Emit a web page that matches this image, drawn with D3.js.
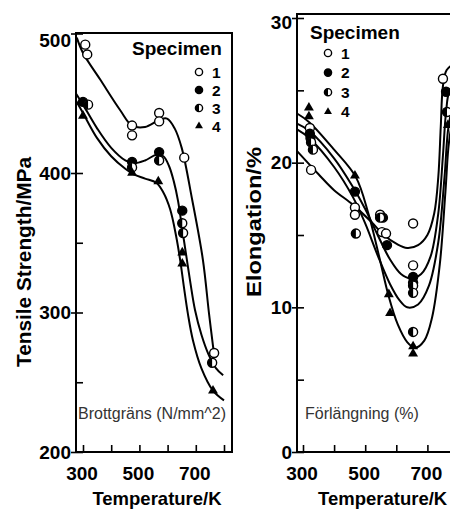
<!DOCTYPE html>
<html>
<head>
<meta charset="utf-8">
<script src="https://cdn.jsdelivr.net/npm/d3@7/dist/d3.min.js"></script>
<style>
  body { margin: 0; background: #fff; }
  svg { display: block; }
</style>
</head>
<body>
<svg id="chart" width="450" height="511"></svg>
<script>
// axis ticks
const tempTicks = [300, 400, 500, 600, 700, 800];
const tempLabels = [300, 500, 700];
const strengthTicks = [200, 300, 400, 500];
const strengthMinor = [250, 350, 450];
const elongTicks = [0, 10, 20, 30];
const elongMinor = [5, 15, 25];
const specimens = ["1", "2", "3", "4"];
const markerKinds = ["open", "filled", "half", "triangle"];

// tensile strength, measured points [K, MPa]
const strengthPts1 = [[308, 492], [315, 485], [474, 434], [474, 427], [570, 443], [570, 437], [659, 411], [765, 271]];
const strengthPts2 = [[300, 451], [474, 408], [570, 415], [652, 373]];
const strengthPts3 = [[318, 449], [474, 404], [570, 409], [652, 364], [655, 357], [758, 264]];
const strengthPts4 = [[300, 441], [474, 400], [567, 394], [652, 343], [652, 335], [761, 244]];
// fitted curves (specimens 2 and 3 share one)
const strengthFit1 = [[278, 497], [300, 486], [361, 467], [432, 445], [474, 434], [520, 433], [570, 438], [598, 439], [625, 432], [650, 418], [687, 381], [725, 338], [747, 299], [764, 271]];
const strengthFit23 = [[275, 457], [300, 449], [350, 432], [400, 418], [450, 409], [480, 407], [520, 409], [560, 413], [585, 412], [605, 405], [622, 394], [637, 380], [651, 361], [666, 341], [681, 321], [697, 302], [720, 284], [745, 270], [772, 260], [797, 255]];
const strengthFit4 = [[275, 452], [300, 443], [350, 425], [400, 412], [450, 403], [480, 399], [520, 396], [560, 393], [585, 386], [609, 374], [630, 355], [645, 337], [658, 318], [672, 299], [690, 280], [720, 260], [761, 244], [800, 237]];

// elongation, measured points [K, %]
const elongPts1 = [[322, 22.4], [326, 19.5], [467, 16.9], [467, 16.4], [548, 16.4], [554, 15.2], [567, 15.1], [654, 15.8], [654, 12.9], [750, 25.8]];
const elongPts2 = [[322, 22.0], [324, 21.7], [467, 18.0], [557, 16.2], [570, 14.3], [654, 12.1], [654, 11.7], [760, 24.9]];
const elongPts3 = [[326, 21.4], [332, 20.9], [470, 15.1], [548, 16.2], [654, 11.5], [654, 11.0], [654, 8.3], [763, 23.5]];
const elongPts4 = [[319, 23.8], [319, 23.2], [467, 19.1], [576, 10.9], [580, 9.6], [654, 7.3], [654, 6.8], [766, 22.6]];
const elongFit1 = [[281, 20.8], [350, 19.2], [400, 18.1], [460, 17.1], [520, 15.9], [560, 15.0], [600, 14.4], [635, 14.1], [670, 14.3], [700, 15.0], [722, 16.5], [735, 19.0], [743, 22.5], [750, 25.3], [762, 26.4], [790, 26.9]];
const elongFit2 = [[281, 22.7], [320, 22.2], [400, 20.3], [461, 18.3], [500, 16.8], [540, 15.0], [580, 13.3], [615, 12.3], [645, 12.0], [680, 12.3], [710, 13.5], [735, 16.5], [750, 20.5], [760, 23.5], [772, 25.0], [800, 25.6]];
const elongFit3 = [[281, 22.3], [320, 21.7], [400, 19.7], [461, 17.6], [500, 15.8], [540, 13.6], [580, 11.6], [610, 10.5], [635, 10.0], [670, 10.2], [705, 11.5], [735, 14.5], [755, 19.0], [768, 22.5], [785, 24.0], [810, 24.5]];
const elongFit4 = [[281, 23.4], [320, 22.8], [400, 20.9], [470, 19.0], [510, 16.5], [545, 13.5], [575, 10.8], [605, 8.8], [635, 7.6], [660, 7.2], [690, 7.7], [715, 9.3], [740, 13.0], [758, 18.0], [770, 21.5], [785, 23.0], [810, 23.5]];

const FONT = "'Liberation Sans', Arial, sans-serif";
const svg = d3.select("#chart");

function marker(sel, kind, r) {
  if (kind == "triangle") {
    sel.append("path")
      .attr("d", d3.symbol(d3.symbolTriangle, r * r * 2.1)())
      .attr("fill", "#000");
    return;
  }
  sel.append("circle")
    .attr("r", r)
    .attr("fill", kind == "filled" ? "#000" : "#fff")
    .attr("stroke", "#000")
    .attr("stroke-width", 1.4);
  if (kind == "half") {
    sel.append("path")
      .attr("d", `M0,${-r}A${r},${r} 0 0 0 0,${r}Z`)
      .attr("fill", "#000");
  }
}

function drawPanel(cfg) {
  const g = svg.append("g");
  const x = d3.scaleLinear().domain([300, 800]).range(cfg.xRange);
  const y = d3.scaleLinear().domain(cfg.yDomain).range(cfg.yRange);
  const [left, top, right, bottom] = cfg.frame;

  g.append("rect")
    .attr("x", left).attr("y", top)
    .attr("width", right - left).attr("height", bottom - top)
    .attr("fill", "none").attr("stroke", "#000").attr("stroke-width", 2);

  // y labels with short outer ticks
  const yLab = g.append("g")
    .attr("transform", "translate(" + left + ",0)")
    .call(d3.axisLeft(y).tickValues(cfg.yTicks).tickSize(5).tickPadding(0).tickFormat(d3.format("d")));
  // inner ticks, major and minor
  const yIn = g.append("g")
    .attr("transform", "translate(" + left + ",0)")
    .call(d3.axisRight(y).tickValues(cfg.yTicks.concat(cfg.yMinor)).tickSize(7).tickFormat(""));
  const xIn = g.append("g")
    .attr("transform", "translate(0," + bottom + ")")
    .call(d3.axisTop(x).tickValues(tempTicks).tickSize(7).tickFormat(""));
  const xLab = g.append("g")
    .attr("transform", "translate(0," + bottom + ")")
    .call(d3.axisBottom(x).tickValues(tempLabels).tickSize(0).tickPadding(15).tickFormat(d3.format("d")));

  for (let ax of [yLab, yIn, xIn, xLab]) {
    ax.select(".domain").remove();
    ax.selectAll("line").attr("stroke", "#000").attr("stroke-width", 1.6);
    ax.attr("font-family", FONT).attr("font-size", 19).attr("font-weight", "bold");
    ax.selectAll("text").attr("fill", "#000");
  }
  xLab.selectAll("text").attr("x", -1.5);
  // top label sits just below the frame corner
  yLab.selectAll(".tick").filter(d => d == cfg.yDomain[1]).select("text").attr("dy", cfg.topLabelDy);

  // fitted curves
  const line = d3.line()
    .x(d => x(d[0]))
    .y(d => y(d[1]))
    .curve(d3.curveCatmullRom.alpha(0.5));
  g.selectAll("path.fit")
    .data(cfg.fits)
    .enter().append("path")
    .attr("class", "fit")
    .attr("d", line)
    .attr("fill", "none")
    .attr("stroke", "#000")
    .attr("stroke-width", 2);

  // measured points
  cfg.points.forEach((pts, i) => {
    g.selectAll(null)
      .data(pts)
      .enter().append("g")
      .attr("transform", d => "translate(" + x(d[0]) + "," + y(d[1]) + ")")
      .each(function () { marker(d3.select(this), markerKinds[i], 4.5); });
  });

  // legend
  g.append("text")
    .attr("x", cfg.legend.x).attr("y", cfg.legend.y)
    .attr("font-family", FONT).attr("font-size", 19).attr("font-weight", "bold")
    .text("Specimen");
  specimens.forEach((s, i) => {
    const ly = cfg.legend.y + cfg.legend.first + i * cfg.legend.step;
    const m = g.append("g").attr("transform", "translate(" + cfg.legend.mx + "," + ly + ")");
    marker(m, markerKinds[i], 3.6);
    g.append("text")
      .attr("x", cfg.legend.mx + 13).attr("y", ly).attr("dy", "0.36em")
      .attr("font-family", FONT).attr("font-size", 15.5).attr("font-weight", "bold")
      .text(s);
  });

  // axis titles
  g.append("text")
    .attr("transform", "translate(" + cfg.yTitle.x + "," + cfg.yTitle.y + ") rotate(-90)")
    .attr("text-anchor", "middle")
    .attr("font-family", FONT).attr("font-size", 20).attr("font-weight", "bold")
    .attr("textLength", cfg.yTitle.len).attr("lengthAdjust", "spacingAndGlyphs")
    .text(cfg.yTitle.text);
  g.append("text")
    .attr("x", cfg.xTitle.x).attr("y", 505)
    .attr("text-anchor", cfg.xTitle.anchor)
    .attr("font-family", FONT).attr("font-size", 18.5).attr("font-weight", "bold")
    .text("Temperature/K");

  // overlay caption
  g.append("text")
    .attr("x", cfg.caption.x).attr("y", 419)
    .attr("font-family", FONT).attr("font-size", 16)
    .attr("fill", "#333")
    .text(cfg.caption.text);
}

drawPanel({
  xRange: [83, 224],
  yDomain: [200, 500], yRange: [452, 33.5],
  frame: [76, 33, 232, 452],
  yTicks: strengthTicks, yMinor: strengthMinor,
  topLabelDy: "0.7em",
  fits: [strengthFit1, strengthFit23, strengthFit4],
  points: [strengthPts1, strengthPts2, strengthPts3, strengthPts4],
  legend: { x: 132, y: 55, mx: 199, first: 17, step: 18 },
  yTitle: { x: 31, y: 262, len: 210, text: "Tensile Strength/MPa" },
  xTitle: { x: 157, anchor: "middle" },
  caption: { x: 78, text: "Brottgräns (N/mm^2)" }
});

drawPanel({
  xRange: [303, 458.5],
  yDomain: [0, 30], yRange: [452, 18],
  frame: [297, 14, 470, 452],
  yTicks: elongTicks, yMinor: elongMinor,
  topLabelDy: "0.55em",
  fits: [elongFit1, elongFit2, elongFit3, elongFit4],
  points: [elongPts1, elongPts2, elongPts3, elongPts4],
  legend: { x: 310, y: 39, mx: 328, first: 14, step: 19.6 },
  yTitle: { x: 261, y: 222, len: 150, text: "Elongation/%" },
  xTitle: { x: 318, anchor: "start" },
  caption: { x: 305, text: "Förlängning (%)" }
});
</script>
</body>
</html>
